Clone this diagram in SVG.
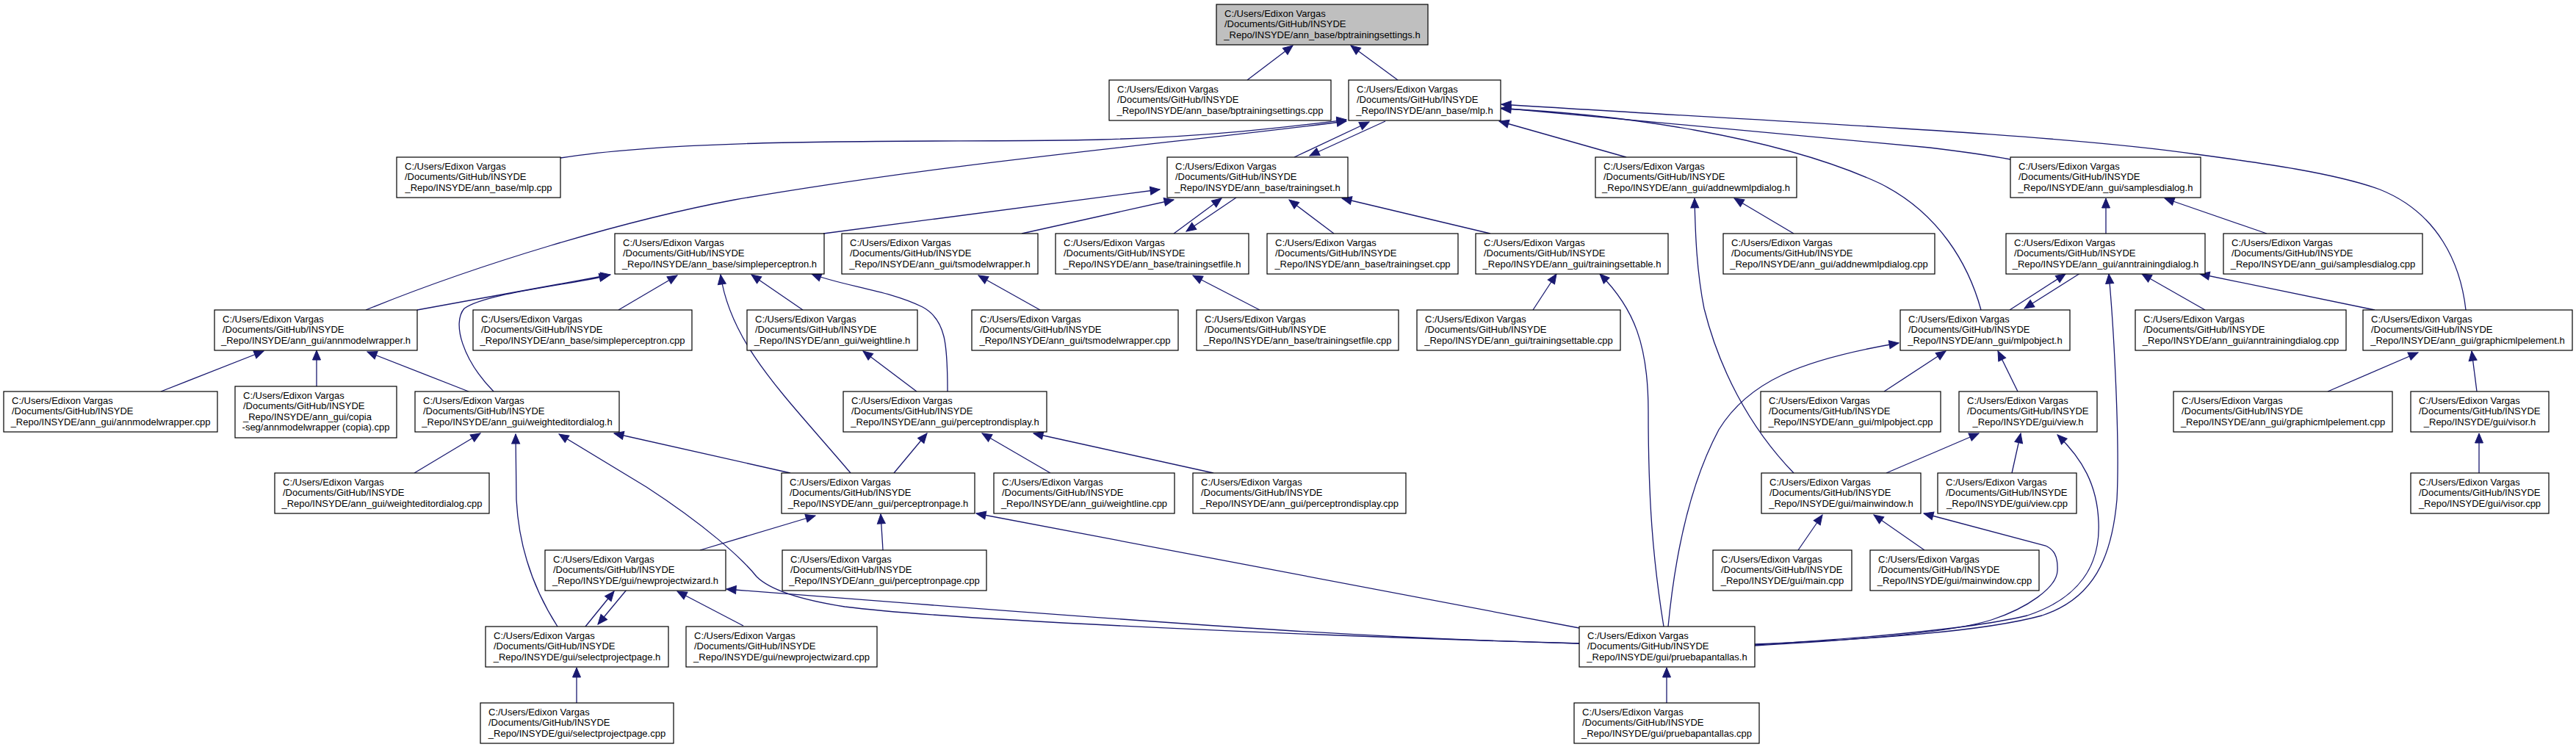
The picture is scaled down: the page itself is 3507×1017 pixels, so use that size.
<svg xmlns="http://www.w3.org/2000/svg" width="3507" height="1017" viewBox="0 0 3507 1017">
<style>
.n rect{fill:#ffffff;stroke:#000000;stroke-width:1.2}
.n.g rect{fill:#bfbfbf}
text{font-family:"Liberation Sans",Arial,sans-serif;font-size:13px;fill:#000000}
text.c{text-anchor:middle}
.e path{fill:none;stroke:#191970;stroke-width:1.3;marker-end:url(#a)}
</style>
<defs>
<marker id="a" markerUnits="userSpaceOnUse" markerWidth="16" markerHeight="14" refX="13" refY="5.5" orient="auto" overflow="visible">
<path d="M0,0 L13,5.5 L0,11 Z" fill="#191970" stroke="#191970" stroke-width="1"/>
</marker>
</defs>
<rect width="3507" height="1017" fill="#ffffff"/>
<g id="edges" class="e">
<path d="M1698,109 L1760,62"/>
<path d="M1903,109 L1839,62"/>
<path d="M763,215 C950,185 1300,195 1500,190 C1650,186 1760,172 1833,163"/>
<path d="M498,422 C650,360 850,300 1000,272 C1300,220 1600,195 1833,165"/>
<path d="M1762,214 L1864,166"/>
<path d="M1886,165 L1783,212"/>
<path d="M2214,214 L2041,165"/>
<path d="M2737,217 C2700,210 2660,205 2627,201 L2044,147"/>
<path d="M3357,422 C3350,360 3320,290 3240,258 C3180,236 3080,222 2990,210 C2800,182 2400,165 2044,142"/>
<path d="M2697,422 C2680,360 2640,290 2560,250 C2420,185 2200,155 2044,148"/>
<path d="M1121,318 L1579,258"/>
<path d="M1391,318 L1598,272"/>
<path d="M1598,318 L1663,270"/>
<path d="M1683,269 L1615,315"/>
<path d="M1816,318 L1755,272"/>
<path d="M2029,318 L1827,270"/>
<path d="M568,422 L831,374"/>
<path d="M672,533 C630,490 615,440 632,420 C660,400 760,390 829,375"/>
<path d="M842,422 L922,375"/>
<path d="M1158,644 C1070,540 995,470 981,374"/>
<path d="M1093,422 L1023,374"/>
<path d="M1290,533 C1290,470 1288,435 1256,418 C1210,395 1150,390 1105,373"/>
<path d="M219,533 L359,478"/>
<path d="M431,526 L431,477"/>
<path d="M638,533 L500,479"/>
<path d="M564,644 L654,590"/>
<path d="M759,853 C725,800 706,740 703,680 L702,591"/>
<path d="M2150,876 C1800,866 1300,845 1150,826 C1080,815 1045,800 1030,785 C1010,760 960,715 880,663 L761,591"/>
<path d="M1076,644 L836,590"/>
<path d="M1217,644 L1262,590"/>
<path d="M1430,644 L1337,590"/>
<path d="M1652,644 L1407,590"/>
<path d="M1248,533 L1175,478"/>
<path d="M1416,422 L1332,375"/>
<path d="M1715,422 L1624,375"/>
<path d="M2087,422 L2119,373"/>
<path d="M2265,853 C2250,760 2244,680 2244,560 C2244,470 2225,420 2178,373"/>
<path d="M2442,318 L2361,270"/>
<path d="M2442,644 C2380,580 2340,500 2320,420 C2310,370 2308,320 2307,270"/>
<path d="M2867,318 L2867,270"/>
<path d="M3086,318 L2947,270"/>
<path d="M2736,422 L2812,373"/>
<path d="M2832,372 L2756,420"/>
<path d="M3002,422 L2916,373"/>
<path d="M3233,422 L2995,373"/>
<path d="M2389,877 C2550,870 2700,860 2780,838 C2850,815 2875,760 2882,680 C2886,600 2878,450 2871,373"/>
<path d="M2565,533 L2649,478"/>
<path d="M2747,533 L2720,478"/>
<path d="M2271,853 C2280,760 2300,660 2340,585 C2380,520 2450,490 2585,467"/>
<path d="M2568,644 L2694,590"/>
<path d="M2739,644 L2751,590"/>
<path d="M2389,878 C2550,868 2690,855 2760,838 C2830,815 2860,770 2857,710 C2855,660 2835,625 2801,592"/>
<path d="M3169,533 L3292,480"/>
<path d="M3372,533 L3365,478"/>
<path d="M3375,644 L3375,590"/>
<path d="M2448,749 L2481,701"/>
<path d="M2620,749 L2551,701"/>
<path d="M2389,879 C2550,870 2660,860 2711,844 C2760,828 2800,800 2801,777 C2802,755 2795,748 2785,743 L2619,699"/>
<path d="M2269,957 L2269,909"/>
<path d="M953,749 L1110,702"/>
<path d="M1202,749 L1199,700"/>
<path d="M2150,855 L1329,699"/>
<path d="M797,853 L836,805"/>
<path d="M853,803 L814,850"/>
<path d="M1012,852 L922,805"/>
<path d="M2150,876 C1900,870 1700,858 989,802"/>
<path d="M785,957 L785,909"/>
</g>
<g id="n0" class="n g"><rect x="1656" y="6" width="288" height="55"/><text x="1667" y="23">C:/Users/Edixon Vargas</text><text x="1667" y="37.3">/Documents/GitHub/INSYDE</text><text class="c" x="1800" y="51.6">_Repo/INSYDE/ann_base/bptrainingsettings.h</text></g>
<g id="n1" class="n"><rect x="1510" y="109" width="302" height="55"/><text x="1521" y="126">C:/Users/Edixon Vargas</text><text x="1521" y="140.3">/Documents/GitHub/INSYDE</text><text class="c" x="1661" y="154.6">_Repo/INSYDE/ann_base/bptrainingsettings.cpp</text></g>
<g id="n2" class="n"><rect x="1836" y="109" width="207" height="55"/><text x="1847" y="126">C:/Users/Edixon Vargas</text><text x="1847" y="140.3">/Documents/GitHub/INSYDE</text><text class="c" x="1939.5" y="154.6">_Repo/INSYDE/ann_base/mlp.h</text></g>
<g id="n3" class="n"><rect x="540" y="214" width="223" height="55"/><text x="551" y="231">C:/Users/Edixon Vargas</text><text x="551" y="245.3">/Documents/GitHub/INSYDE</text><text class="c" x="651.5" y="259.6">_Repo/INSYDE/ann_base/mlp.cpp</text></g>
<g id="n4" class="n"><rect x="1589" y="214" width="246" height="55"/><text x="1600" y="231">C:/Users/Edixon Vargas</text><text x="1600" y="245.3">/Documents/GitHub/INSYDE</text><text class="c" x="1712" y="259.6">_Repo/INSYDE/ann_base/trainingset.h</text></g>
<g id="n5" class="n"><rect x="2172" y="214" width="274" height="55"/><text x="2183" y="231">C:/Users/Edixon Vargas</text><text x="2183" y="245.3">/Documents/GitHub/INSYDE</text><text class="c" x="2309" y="259.6">_Repo/INSYDE/ann_gui/addnewmlpdialog.h</text></g>
<g id="n6" class="n"><rect x="2737" y="214" width="259" height="55"/><text x="2748" y="231">C:/Users/Edixon Vargas</text><text x="2748" y="245.3">/Documents/GitHub/INSYDE</text><text class="c" x="2866.5" y="259.6">_Repo/INSYDE/ann_gui/samplesdialog.h</text></g>
<g id="n7" class="n"><rect x="837" y="318" width="285" height="55"/><text x="848" y="335">C:/Users/Edixon Vargas</text><text x="848" y="349.3">/Documents/GitHub/INSYDE</text><text class="c" x="979.5" y="363.6">_Repo/INSYDE/ann_base/simpleperceptron.h</text></g>
<g id="n8" class="n"><rect x="1146" y="318" width="267" height="55"/><text x="1157" y="335">C:/Users/Edixon Vargas</text><text x="1157" y="349.3">/Documents/GitHub/INSYDE</text><text class="c" x="1279.5" y="363.6">_Repo/INSYDE/ann_gui/tsmodelwrapper.h</text></g>
<g id="n9" class="n"><rect x="1437" y="318" width="263" height="55"/><text x="1448" y="335">C:/Users/Edixon Vargas</text><text x="1448" y="349.3">/Documents/GitHub/INSYDE</text><text class="c" x="1568.5" y="363.6">_Repo/INSYDE/ann_base/trainingsetfile.h</text></g>
<g id="n10" class="n"><rect x="1725" y="318" width="260" height="55"/><text x="1736" y="335">C:/Users/Edixon Vargas</text><text x="1736" y="349.3">/Documents/GitHub/INSYDE</text><text class="c" x="1855" y="363.6">_Repo/INSYDE/ann_base/trainingset.cpp</text></g>
<g id="n11" class="n"><rect x="2009" y="318" width="262" height="55"/><text x="2020" y="335">C:/Users/Edixon Vargas</text><text x="2020" y="349.3">/Documents/GitHub/INSYDE</text><text class="c" x="2140" y="363.6">_Repo/INSYDE/ann_gui/trainingsettable.h</text></g>
<g id="n12" class="n"><rect x="2346" y="318" width="288" height="55"/><text x="2357" y="335">C:/Users/Edixon Vargas</text><text x="2357" y="349.3">/Documents/GitHub/INSYDE</text><text class="c" x="2490" y="363.6">_Repo/INSYDE/ann_gui/addnewmlpdialog.cpp</text></g>
<g id="n13" class="n"><rect x="2731" y="318" width="271" height="55"/><text x="2742" y="335">C:/Users/Edixon Vargas</text><text x="2742" y="349.3">/Documents/GitHub/INSYDE</text><text class="c" x="2866.5" y="363.6">_Repo/INSYDE/ann_gui/anntrainingdialog.h</text></g>
<g id="n14" class="n"><rect x="3027" y="318" width="271" height="55"/><text x="3038" y="335">C:/Users/Edixon Vargas</text><text x="3038" y="349.3">/Documents/GitHub/INSYDE</text><text class="c" x="3162.5" y="363.6">_Repo/INSYDE/ann_gui/samplesdialog.cpp</text></g>
<g id="n15" class="n"><rect x="292" y="422" width="276" height="55"/><text x="303" y="439">C:/Users/Edixon Vargas</text><text x="303" y="453.3">/Documents/GitHub/INSYDE</text><text class="c" x="430" y="467.6">_Repo/INSYDE/ann_gui/annmodelwrapper.h</text></g>
<g id="n16" class="n"><rect x="644" y="422" width="298" height="55"/><text x="655" y="439">C:/Users/Edixon Vargas</text><text x="655" y="453.3">/Documents/GitHub/INSYDE</text><text class="c" x="793" y="467.6">_Repo/INSYDE/ann_base/simpleperceptron.cpp</text></g>
<g id="n17" class="n"><rect x="1017" y="422" width="232" height="55"/><text x="1028" y="439">C:/Users/Edixon Vargas</text><text x="1028" y="453.3">/Documents/GitHub/INSYDE</text><text class="c" x="1133" y="467.6">_Repo/INSYDE/ann_gui/weightline.h</text></g>
<g id="n18" class="n"><rect x="1323" y="422" width="281" height="55"/><text x="1334" y="439">C:/Users/Edixon Vargas</text><text x="1334" y="453.3">/Documents/GitHub/INSYDE</text><text class="c" x="1463.5" y="467.6">_Repo/INSYDE/ann_gui/tsmodelwrapper.cpp</text></g>
<g id="n19" class="n"><rect x="1629" y="422" width="275" height="55"/><text x="1640" y="439">C:/Users/Edixon Vargas</text><text x="1640" y="453.3">/Documents/GitHub/INSYDE</text><text class="c" x="1766.5" y="467.6">_Repo/INSYDE/ann_base/trainingsetfile.cpp</text></g>
<g id="n20" class="n"><rect x="1929" y="422" width="277" height="55"/><text x="1940" y="439">C:/Users/Edixon Vargas</text><text x="1940" y="453.3">/Documents/GitHub/INSYDE</text><text class="c" x="2067.5" y="467.6">_Repo/INSYDE/ann_gui/trainingsettable.cpp</text></g>
<g id="n21" class="n"><rect x="2587" y="422" width="231" height="55"/><text x="2598" y="439">C:/Users/Edixon Vargas</text><text x="2598" y="453.3">/Documents/GitHub/INSYDE</text><text class="c" x="2702.5" y="467.6">_Repo/INSYDE/ann_gui/mlpobject.h</text></g>
<g id="n22" class="n"><rect x="2907" y="422" width="287" height="55"/><text x="2918" y="439">C:/Users/Edixon Vargas</text><text x="2918" y="453.3">/Documents/GitHub/INSYDE</text><text class="c" x="3050.5" y="467.6">_Repo/INSYDE/ann_gui/anntrainingdialog.cpp</text></g>
<g id="n23" class="n"><rect x="3217" y="422" width="285" height="55"/><text x="3228" y="439">C:/Users/Edixon Vargas</text><text x="3228" y="453.3">/Documents/GitHub/INSYDE</text><text class="c" x="3359.5" y="467.6">_Repo/INSYDE/ann_gui/graphicmlpelement.h</text></g>
<g id="n24" class="n"><rect x="5" y="533" width="291" height="55"/><text x="16" y="550">C:/Users/Edixon Vargas</text><text x="16" y="564.3">/Documents/GitHub/INSYDE</text><text class="c" x="150.5" y="578.6">_Repo/INSYDE/ann_gui/annmodelwrapper.cpp</text></g>
<g id="n25" class="n"><rect x="320" y="526" width="220" height="70"/><text x="331" y="543">C:/Users/Edixon Vargas</text><text x="331" y="557.3">/Documents/GitHub/INSYDE</text><text x="331" y="571.6">_Repo/INSYDE/ann_gui/copia</text><text class="c" x="430" y="585.9">-seg/annmodelwrapper (copia).cpp</text></g>
<g id="n26" class="n"><rect x="565" y="533" width="278" height="55"/><text x="576" y="550">C:/Users/Edixon Vargas</text><text x="576" y="564.3">/Documents/GitHub/INSYDE</text><text class="c" x="704" y="578.6">_Repo/INSYDE/ann_gui/weighteditordialog.h</text></g>
<g id="n27" class="n"><rect x="1148" y="533" width="277" height="55"/><text x="1159" y="550">C:/Users/Edixon Vargas</text><text x="1159" y="564.3">/Documents/GitHub/INSYDE</text><text class="c" x="1286.5" y="578.6">_Repo/INSYDE/ann_gui/perceptrondisplay.h</text></g>
<g id="n28" class="n"><rect x="2397" y="533" width="245" height="55"/><text x="2408" y="550">C:/Users/Edixon Vargas</text><text x="2408" y="564.3">/Documents/GitHub/INSYDE</text><text class="c" x="2519.5" y="578.6">_Repo/INSYDE/ann_gui/mlpobject.cpp</text></g>
<g id="n29" class="n"><rect x="2667" y="533" width="188" height="55"/><text x="2678" y="550">C:/Users/Edixon Vargas</text><text x="2678" y="564.3">/Documents/GitHub/INSYDE</text><text class="c" x="2761" y="578.6">_Repo/INSYDE/gui/view.h</text></g>
<g id="n30" class="n"><rect x="2959" y="533" width="298" height="55"/><text x="2970" y="550">C:/Users/Edixon Vargas</text><text x="2970" y="564.3">/Documents/GitHub/INSYDE</text><text class="c" x="3108" y="578.6">_Repo/INSYDE/ann_gui/graphicmlpelement.cpp</text></g>
<g id="n31" class="n"><rect x="3282" y="533" width="188" height="55"/><text x="3293" y="550">C:/Users/Edixon Vargas</text><text x="3293" y="564.3">/Documents/GitHub/INSYDE</text><text class="c" x="3376" y="578.6">_Repo/INSYDE/gui/visor.h</text></g>
<g id="n32" class="n"><rect x="374" y="644" width="292" height="55"/><text x="385" y="661">C:/Users/Edixon Vargas</text><text x="385" y="675.3">/Documents/GitHub/INSYDE</text><text class="c" x="520" y="689.6">_Repo/INSYDE/ann_gui/weighteditordialog.cpp</text></g>
<g id="n33" class="n"><rect x="1064" y="644" width="263" height="55"/><text x="1075" y="661">C:/Users/Edixon Vargas</text><text x="1075" y="675.3">/Documents/GitHub/INSYDE</text><text class="c" x="1195.5" y="689.6">_Repo/INSYDE/ann_gui/perceptronpage.h</text></g>
<g id="n34" class="n"><rect x="1353" y="644" width="246" height="55"/><text x="1364" y="661">C:/Users/Edixon Vargas</text><text x="1364" y="675.3">/Documents/GitHub/INSYDE</text><text class="c" x="1476" y="689.6">_Repo/INSYDE/ann_gui/weightline.cpp</text></g>
<g id="n35" class="n"><rect x="1624" y="644" width="290" height="55"/><text x="1635" y="661">C:/Users/Edixon Vargas</text><text x="1635" y="675.3">/Documents/GitHub/INSYDE</text><text class="c" x="1769" y="689.6">_Repo/INSYDE/ann_gui/perceptrondisplay.cpp</text></g>
<g id="n36" class="n"><rect x="2398" y="644" width="217" height="55"/><text x="2409" y="661">C:/Users/Edixon Vargas</text><text x="2409" y="675.3">/Documents/GitHub/INSYDE</text><text class="c" x="2506.5" y="689.6">_Repo/INSYDE/gui/mainwindow.h</text></g>
<g id="n37" class="n"><rect x="2638" y="644" width="189" height="55"/><text x="2649" y="661">C:/Users/Edixon Vargas</text><text x="2649" y="675.3">/Documents/GitHub/INSYDE</text><text class="c" x="2732.5" y="689.6">_Repo/INSYDE/gui/view.cpp</text></g>
<g id="n38" class="n"><rect x="3282" y="644" width="188" height="55"/><text x="3293" y="661">C:/Users/Edixon Vargas</text><text x="3293" y="675.3">/Documents/GitHub/INSYDE</text><text class="c" x="3376" y="689.6">_Repo/INSYDE/gui/visor.cpp</text></g>
<g id="n39" class="n"><rect x="742" y="749" width="246" height="55"/><text x="753" y="766">C:/Users/Edixon Vargas</text><text x="753" y="780.3">/Documents/GitHub/INSYDE</text><text class="c" x="865" y="794.6">_Repo/INSYDE/gui/newprojectwizard.h</text></g>
<g id="n40" class="n"><rect x="1065" y="749" width="278" height="55"/><text x="1076" y="766">C:/Users/Edixon Vargas</text><text x="1076" y="780.3">/Documents/GitHub/INSYDE</text><text class="c" x="1204" y="794.6">_Repo/INSYDE/ann_gui/perceptronpage.cpp</text></g>
<g id="n41" class="n"><rect x="2332" y="749" width="189" height="55"/><text x="2343" y="766">C:/Users/Edixon Vargas</text><text x="2343" y="780.3">/Documents/GitHub/INSYDE</text><text class="c" x="2426.5" y="794.6">_Repo/INSYDE/gui/main.cpp</text></g>
<g id="n42" class="n"><rect x="2546" y="749" width="230" height="55"/><text x="2557" y="766">C:/Users/Edixon Vargas</text><text x="2557" y="780.3">/Documents/GitHub/INSYDE</text><text class="c" x="2661" y="794.6">_Repo/INSYDE/gui/mainwindow.cpp</text></g>
<g id="n43" class="n"><rect x="661" y="853" width="249" height="55"/><text x="672" y="870">C:/Users/Edixon Vargas</text><text x="672" y="884.3">/Documents/GitHub/INSYDE</text><text class="c" x="785.5" y="898.6">_Repo/INSYDE/gui/selectprojectpage.h</text></g>
<g id="n44" class="n"><rect x="934" y="853" width="260" height="55"/><text x="945" y="870">C:/Users/Edixon Vargas</text><text x="945" y="884.3">/Documents/GitHub/INSYDE</text><text class="c" x="1064" y="898.6">_Repo/INSYDE/gui/newprojectwizard.cpp</text></g>
<g id="n45" class="n"><rect x="2150" y="853" width="239" height="55"/><text x="2161" y="870">C:/Users/Edixon Vargas</text><text x="2161" y="884.3">/Documents/GitHub/INSYDE</text><text class="c" x="2269.5" y="898.6">_Repo/INSYDE/gui/pruebapantallas.h</text></g>
<g id="n46" class="n"><rect x="654" y="957" width="263" height="55"/><text x="665" y="974">C:/Users/Edixon Vargas</text><text x="665" y="988.3">/Documents/GitHub/INSYDE</text><text class="c" x="785.5" y="1002.6">_Repo/INSYDE/gui/selectprojectpage.cpp</text></g>
<g id="n47" class="n"><rect x="2143" y="957" width="252" height="55"/><text x="2154" y="974">C:/Users/Edixon Vargas</text><text x="2154" y="988.3">/Documents/GitHub/INSYDE</text><text class="c" x="2269" y="1002.6">_Repo/INSYDE/gui/pruebapantallas.cpp</text></g>
</svg>
